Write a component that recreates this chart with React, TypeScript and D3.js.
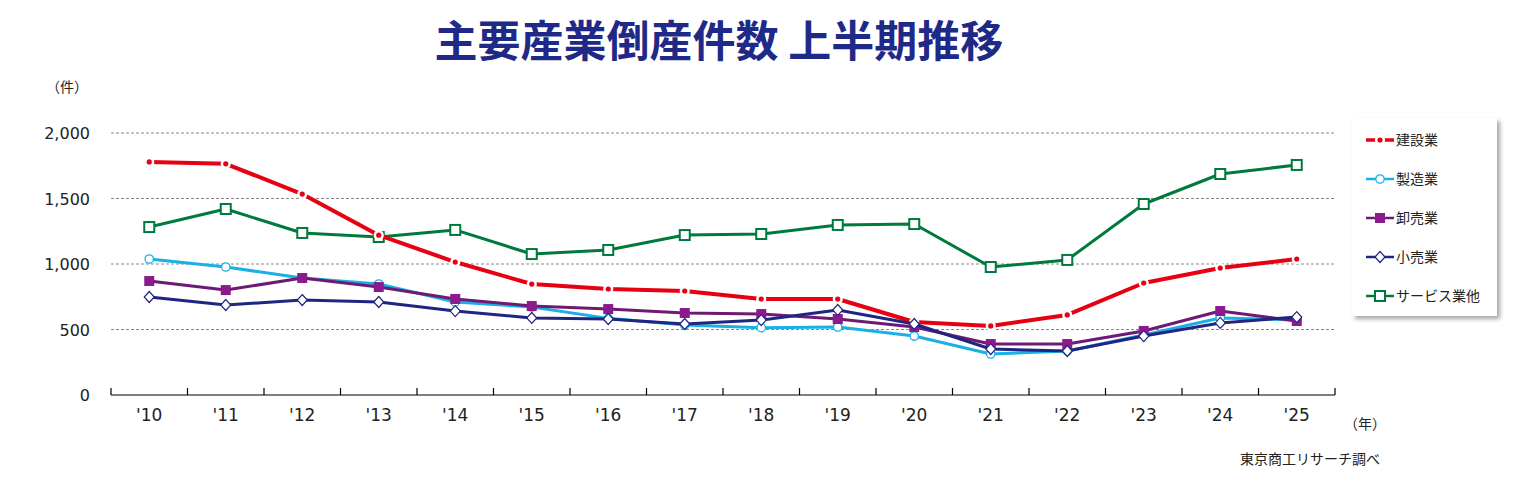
import React from 'react';
import * as d3 from 'd3';

// 上半期の主要産業別倒産件数（東京商工リサーチ）
const years = ["'10", "'11", "'12", "'13", "'14", "'15", "'16", "'17", "'18", "'19", "'20", "'21", "'22", "'23", "'24", "'25"];
const construction = [1779, 1765, 1534, 1220, 1015, 847, 809, 794, 733, 733, 557, 527, 611, 855, 969, 1038];
const manufacturing = [1038, 977, 893, 847, 710, 672, 585, 534, 514, 519, 450, 313, 336, 458, 588, 573];
const wholesale = [870, 801, 893, 824, 733, 679, 656, 626, 618, 580, 519, 389, 389, 489, 641, 565];
const retail = [748, 687, 725, 710, 641, 588, 580, 542, 572, 649, 542, 351, 336, 450, 550, 595];
const services = [1282, 1420, 1237, 1206, 1260, 1076, 1107, 1221, 1229, 1298, 1305, 977, 1031, 1458, 1687, 1756];
const yTicks = [0, 500, 1000, 1500, 2000];

type Marker = 'dot' | 'circle' | 'square' | 'diamond' | 'box';
interface Series { name: string; values: number[]; color: string; mark: string; width: number; marker: Marker; }

const series: Series[] = [
  { name: '建設業', values: construction, color: '#e60012', mark: '#e60012', width: 4, marker: 'dot' },
  { name: '製造業', values: manufacturing, color: '#1ab0e6', mark: '#1ab0e6', width: 3, marker: 'circle' },
  { name: '卸売業', values: wholesale, color: '#6e1a72', mark: '#8b1a8c', width: 3, marker: 'square' },
  { name: '小売業', values: retail, color: '#1f2580', mark: '#1f2580', width: 3, marker: 'diamond' },
  { name: 'サービス業他', values: services, color: '#007a3c', mark: '#007a3c', width: 3, marker: 'box' },
];

// 描画順（後ろから）
const drawOrder = [4, 0, 1, 2, 3];

const W = 1534;
const H = 486;
const left = 111;
const right = 1335;
const top = 133;
const bottom = 395;

const jp = '"Noto Sans CJK JP", "Noto Sans", sans-serif';
const num = '"DejaVu Sans", Verdana, sans-serif';

function MarkerShape({ s, x, y }: { s: Series; x: number; y: number }) {
  switch (s.marker) {
    case 'dot':
      return <circle cx={x} cy={y} r={2.6} fill={s.mark} stroke="#fff" strokeWidth={5} paintOrder="stroke" />;
    case 'circle':
      return <circle cx={x} cy={y} r={4.2} fill="#fff" stroke={s.mark} strokeWidth={1.3} />;
    case 'square':
      return <rect x={x - 5} y={y - 5} width={10} height={10} fill={s.mark} />;
    case 'diamond':
      return <path d={`M${x},${y - 5.5}L${x + 5},${y}L${x},${y + 5.5}L${x - 5},${y}Z`} fill="#fff" stroke={s.mark} strokeWidth={1.2} />;
    case 'box':
      return <rect x={x - 5} y={y - 5} width={10} height={10} fill="#fff" stroke={s.mark} strokeWidth={2} />;
  }
}

export default function App() {
  const x = d3.scaleBand<string>().domain(years).range([left, right]);
  const y = d3.scaleLinear().domain([0, 2000]).range([bottom, top]);
  const cx = (d: string) => (x(d) ?? 0) + x.bandwidth() / 2;
  const line = d3.line<number>().x((_, i) => cx(years[i])).y((v) => y(v));

  const bounds = years.map((d) => x(d) ?? 0).concat([right]);

  return (
    <svg width={W} height={H} style={{ position: 'absolute', left: 0, top: 0, background: '#fff' }}>
      <defs>
        <filter id="shadow" x="-10%" y="-10%" width="130%" height="130%">
          <feDropShadow dx="3" dy="3" stdDeviation="2" floodColor="#000" floodOpacity="0.35" />
        </filter>
      </defs>

      <text x={719} y={57} textAnchor="middle" fontFamily={jp} fontWeight={700} fontSize={43} fill="#1f2a88">
        主要産業倒産件数 上半期推移
      </text>

      <text x={46} y={92} fontFamily={jp} fontSize={14} fill="#222">（件）</text>

      {yTicks.map((t) => (
        <g key={t}>
          {t > 0 && (
            <line x1={left} x2={right} y1={y(t)} y2={y(t)} stroke="#8a8a8a" strokeWidth={1} strokeDasharray="3,2" />
          )}
          <text x={90} y={y(t) + 6} textAnchor="end" fontFamily={num} fontSize={16} fill="#222">
            {d3.format(',')(t)}
          </text>
        </g>
      ))}

      <line x1={left} x2={right} y1={bottom} y2={bottom} stroke="#000" strokeWidth={1.2} />
      {bounds.map((b, i) => (
        <line key={i} x1={b} x2={b} y1={bottom - 7} y2={bottom} stroke="#000" strokeWidth={1.2} />
      ))}
      {years.map((d) => (
        <text key={d} x={cx(d)} y={421} textAnchor="middle" fontFamily={num} fontSize={17} fill="#222">{d}</text>
      ))}
      <text x={1344} y={429} fontFamily={jp} fontSize={14} fill="#222">（年）</text>

      {drawOrder.map((k) => {
        const s = series[k];
        return (
          <g key={s.name}>
            <path d={line(s.values) ?? ''} fill="none" stroke={s.color} strokeWidth={s.width} strokeLinejoin="round" />
            {s.values.map((v, i) => (
              <MarkerShape key={i} s={s} x={cx(years[i])} y={y(v)} />
            ))}
          </g>
        );
      })}

      <g>
        <rect x={1352} y={118} width={145} height={198} fill="#fff" filter="url(#shadow)" />
        {series.map((s, i) => {
          const ly = 140 + i * 39;
          return (
            <g key={s.name}>
              <line x1={1366} x2={1394} y1={ly} y2={ly} stroke={s.color} strokeWidth={s.width - 0.5} />
              <MarkerShape s={s} x={1380} y={ly} />
              <text x={1396} y={ly + 5} fontFamily={jp} fontSize={14} fill="#222">{s.name}</text>
            </g>
          );
        })}
      </g>

      <text x={1240} y={464} fontFamily={jp} fontSize={14} fill="#222">東京商工リサーチ調べ</text>
    </svg>
  );
}
